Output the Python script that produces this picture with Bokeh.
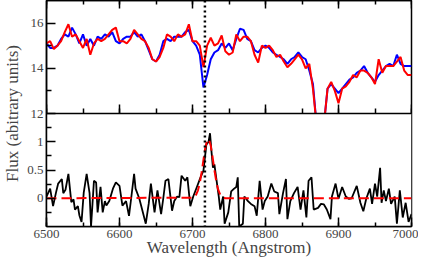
from bokeh.plotting import figure
from bokeh.models import (Range1d, LinearAxis, FixedTicker, SingleIntervalTicker,
                          CustomJSTickFormatter, Span, BoxAnnotation)
from bokeh.embed import file_html
from bokeh.resources import INLINE

# ---------------- data ----------------
wl_top = list(range(6500, 7001, 5))
flux_blue = [
    15.1, 14.9, 14.9, 15.0, 15.3, 15.5, 15.4, 15.8, 15.5, 15.1,   # 6500-6545
    15.5, 15.0, 15.3, 15.0, 15.4, 15.3, 15.5, 15.4, 15.6, 15.2,   # 6550-6595
    15.1, 15.3, 15.4, 15.4, 15.6, 15.4, 15.5, 15.2, 14.8, 14.4,   # 6600-6645
    14.3, 14.6, 15.2, 15.3, 15.2, 15.4, 15.4, 15.4, 15.6, 15.7,   # 6650-6695
    15.2, 15.0, 14.6, 13.15, 13.7, 14.4, 14.7, 14.8, 15.1, 14.9,  # 6700-6745
    15.1, 14.8, 15.3, 15.75, 15.7, 15.3, 15.2, 14.8, 14.7, 14.9,  # 6750-6795
    15.0, 14.9, 14.7, 14.6, 14.5, 14.4, 14.2, 14.4, 14.5, 14.7,   # 6800-6845
    14.5, 14.4, 13.9, 13.3, 11.5, 11.0, 11.5, 13.1, 13.3, 13.1,   # 6850-6895
    12.9, 13.1, 13.3, 13.5, 13.6, 13.8, 13.9, 14.1, 13.8, 13.6,   # 6900-6945
    13.4, 13.7, 13.9, 14.1, 14.2, 14.1, 14.6, 14.2, 14.1, 14.1,   # 6950-6995
    14.1,                                                         # 7000
]
flux_red = [
    15.1, 15.2, 14.85, 15.0, 15.2, 15.6, 15.95, 15.4, 15.5, 15.2,
    14.9, 15.3, 14.6, 15.1, 15.3, 15.2, 15.3, 15.5, 15.7, 15.8,
    15.2, 15.2, 15.1, 15.3, 15.7, 15.5, 15.3, 15.2, 14.9, 14.4,
    14.3, 14.5, 14.9, 15.5, 15.4, 15.2, 15.5, 15.4, 15.5, 15.95,
    15.2, 15.2, 15.0, 14.05, 15.0, 15.35, 15.0, 15.1, 15.45, 14.75,
    14.6, 14.7, 15.5, 15.2, 15.4, 15.4, 15.2, 14.6, 14.25, 15.0,
    14.9, 15.0, 14.8, 14.5, 14.6, 14.3, 14.05, 14.2, 14.4, 14.6,
    14.4, 14.0, 14.2, 13.1, 11.5, 11.0, 11.5, 13.1, 13.4, 13.0,
    12.45, 13.1, 13.2, 13.4, 13.7, 13.6, 13.9, 13.9, 13.8, 13.6,
    13.3, 14.4, 13.8, 14.1, 14.1, 14.1, 14.3, 14.5, 13.9, 13.7,
    13.7,
]

res_wl = [
    6500, 6505, 6509, 6513, 6516, 6521, 6523, 6526, 6530, 6534,
    6537, 6539, 6543, 6545, 6548, 6551, 6555, 6559, 6561, 6563,
    6565, 6568, 6570, 6574, 6577, 6580, 6582, 6586, 6591, 6595,
    6600, 6604, 6609, 6613, 6616, 6620, 6622, 6627, 6631, 6636,
    6640, 6643, 6648, 6652, 6657, 6660, 6663, 6667, 6672, 6675,
    6679, 6682, 6685, 6690, 6693, 6697, 6701, 6706, 6711, 6715,
    6719, 6722, 6724, 6726, 6728, 6730, 6733, 6736, 6738, 6742,
    6744, 6749, 6753, 6757, 6760, 6762, 6764, 6769, 6771, 6776,
    6780, 6785, 6788, 6792, 6796, 6799, 6803, 6808, 6812, 6817,
    6819, 6824, 6828, 6830, 6834, 6839, 6844, 6848, 6852, 6856,
    6859, 6863, 6866, 6872, 6876, 6880, 6884, 6889, 6891, 6896,
    6900, 6905, 6910, 6914, 6918, 6925, 6930, 6934, 6938, 6943,
    6946, 6950, 6953, 6957, 6959, 6962, 6965, 6969, 6972, 6977,
    6980, 6984, 6988, 6992, 6996, 7000,
]
res_flux = [
    0.03, 0.17, -0.14, 0.10, 0.26, 0.34, 0.09, 0.15, 0.43, -0.07,
    -0.02, -0.20, -0.14, -0.30, -0.42, 0.10, 0.43, 0.09, -0.50, -0.10,
    0.31, 0.28, -0.25, 0.20, -0.25, -0.05, -0.13, -0.05, 0.17, 0.28,
    0.22, -0.13, -0.05, -0.31, 0.00, 0.43, 0.17, 0.00, -0.20, -0.45,
    -0.10, 0.26, -0.25, 0.14, -0.28, 0.00, 0.31, 0.34, -0.22, -0.05,
    0.03, 0.02, 0.40, 0.31, 0.37, -0.14, 0.03, 0.20, 0.37, 0.49,
    0.95, 1.00, 1.15, 0.83, 0.54, 0.60, 0.31, 0.03, -0.20, 0.03,
    -0.45, -0.25, 0.12, 0.17, 0.20, 0.37, -0.50, -0.45, 0.03, -0.05,
    -0.10, -0.14, -0.31, 0.31, -0.20, -0.05, 0.03, 0.26, 0.12, 0.09,
    -0.28, 0.09, 0.34, -0.37, -0.05, 0.09, 0.20, -0.20, 0.14, -0.34,
    0.31, 0.37, -0.20, -0.17, -0.10, -0.11, -0.20, -0.37, 0.03, 0.26,
    -0.01, 0.20, 0.03, -0.01, 0.00, 0.22, -0.08, -0.23, -0.01, 0.17,
    -0.10, 0.26, 0.03, 0.54, -0.08, 0.14, -0.05, 0.17, -0.10, 0.03,
    -0.45, 0.14, -0.34, -0.08, -0.42, -0.28,
]

fit_wl = [6500, 6700, 6702.5, 6705, 6707.5, 6710, 6712.5, 6715, 6717.5, 6720,
          6722.5, 6725, 6727.5, 6730, 6732.5, 6735, 6737.5, 6740, 6742.5, 6745, 7000]
fit_flux = [0, 0.01, 0.026, 0.065, 0.14, 0.27, 0.46, 0.68, 0.89, 1.03,
            1.04, 0.93, 0.73, 0.50, 0.305, 0.16, 0.077, 0.03, 0.01, 0, 0]

line_center = 6717

x_range_vals = (6500, 7000)
top_range_vals = (7, 17)        # upper panel occupies 12..17
res_range_vals = (-0.5, 3.5)    # lower panel occupies -0.5..1.5
panel_split = 1.5

top_ticks = [12, 14, 16]
top_tick_labels = ["12", "14", "16"]
top_minor = [13, 15]
res_ticks = [0, 0.5, 1]
res_tick_labels = ["0", "0.5", "1"]
res_minor = [-0.25, 0.25, 0.75, 1.25]

x_title = "Wavelength (Angstrom)"
y_title = "Flux (abitrary units)"

FONT = "Liberation Serif"


def top_to_res(u):
    lo_t, hi_t = top_range_vals
    lo_r, hi_r = res_range_vals
    return round(lo_r + (u - lo_t) * (hi_r - lo_r) / (hi_t - lo_t), 6)


major_pos = res_ticks + [top_to_res(u) for u in top_ticks]
major_lab = res_tick_labels + top_tick_labels
minor_pos = res_minor + [top_to_res(u) for u in top_minor]

# ---------------- figure ----------------
# whole page (8px margins included) stays inside 436 x 275
p = figure(width=418, height=259,
           x_range=Range1d(*x_range_vals), y_range=Range1d(*res_range_vals),
           x_axis_type=None, y_axis_type=None,
           output_backend="svg", toolbar_location=None,
           min_border_left=40, min_border_right=7,
           min_border_top=0, min_border_bottom=0)
p.extra_y_ranges = {"top": Range1d(*top_range_vals)}
p.outline_line_color = "black"
p.outline_line_width = 1.5
p.background_fill_color = "white"
p.border_fill_color = "white"


def style_x(ax, labels=True, t_in=8, t_out=0, m_in=4, m_out=0):
    ax.major_tick_in = t_in
    ax.major_tick_out = t_out
    ax.minor_tick_in = m_in
    ax.minor_tick_out = m_out
    ax.major_tick_line_color = "black"
    ax.minor_tick_line_color = "black"
    ax.major_tick_line_width = 1.5
    ax.minor_tick_line_width = 1.5
    ax.axis_line_color = "black"
    ax.axis_line_width = 1.5
    if not labels:
        ax.major_label_text_font_size = "0px"
        ax.major_label_text_alpha = 0
        ax.major_label_standoff = 0


xaxis = LinearAxis(ticker=SingleIntervalTicker(interval=100, num_minor_ticks=2),
                   axis_label=x_title)
style_x(xaxis, t_in=9, m_in=4)
xaxis.major_label_text_font = FONT
xaxis.major_label_text_font_size = "13px"
xaxis.major_label_standoff = 3
xaxis.axis_label_text_font = FONT
xaxis.axis_label_text_font_size = "17px"
xaxis.axis_label_text_font_style = "normal"
xaxis.axis_label_standoff = -3
p.add_layout(xaxis, "below")

top_edge = LinearAxis(ticker=SingleIntervalTicker(interval=100, num_minor_ticks=2),
                      fixed_location=res_range_vals[1])
style_x(top_edge, labels=False, t_in=8, m_in=4)
p.add_layout(top_edge, "above")

# ticks on the panel divider, pointing up into the upper panel
divider = LinearAxis(ticker=SingleIntervalTicker(interval=100, num_minor_ticks=2),
                     fixed_location=panel_split)
style_x(divider, labels=False, t_in=0, t_out=9, m_in=0, m_out=5)
p.add_layout(divider, "above")

fmt = CustomJSTickFormatter(args=dict(pos=major_pos, labels=major_lab), code="""
let best = 0, d = 1e9;
for (let i = 0; i < pos.length; i++) {
  const e = Math.abs(pos[i] - tick);
  if (e < d) { d = e; best = i; }
}
return labels[best];
""")
yaxis = LinearAxis(ticker=FixedTicker(ticks=major_pos, minor_ticks=minor_pos),
                   formatter=fmt, axis_label=y_title)
yaxis.major_tick_in = 9
yaxis.major_tick_out = 0
yaxis.minor_tick_in = 5
yaxis.minor_tick_out = 0
yaxis.major_tick_line_width = 1.5
yaxis.minor_tick_line_width = 1.5
yaxis.axis_line_width = 1.5
yaxis.major_label_text_font = FONT
yaxis.major_label_text_font_size = "13px"
yaxis.major_label_standoff = 3
yaxis.axis_label_text_font = FONT
yaxis.axis_label_text_font_size = "17px"
yaxis.axis_label_text_font_style = "normal"
yaxis.axis_label_standoff = 2
p.add_layout(yaxis, "left")

# upper panel spectra (drawn first, then covered below the split)
p.line(wl_top, flux_blue, y_range_name="top", line_color="#0000ff", line_width=2, level="underlay")
p.line(wl_top, flux_red, y_range_name="top", line_color="#ff0000", line_width=2, level="underlay")
cover = BoxAnnotation(top=panel_split, fill_color="white", fill_alpha=1.0,
                      line_color=None, level="underlay")
p.add_layout(cover)

# lower panel
p.line(res_wl, res_flux, line_color="black", line_width=1.8)
p.line(fit_wl, fit_flux, line_color="#ff0000", line_width=2, line_dash="10 5")

p.add_layout(Span(location=line_center, dimension="height", line_color="black",
                  line_width=2.5, line_dash="2 3"))

open("out.html", "w").write(file_html(p, INLINE))
